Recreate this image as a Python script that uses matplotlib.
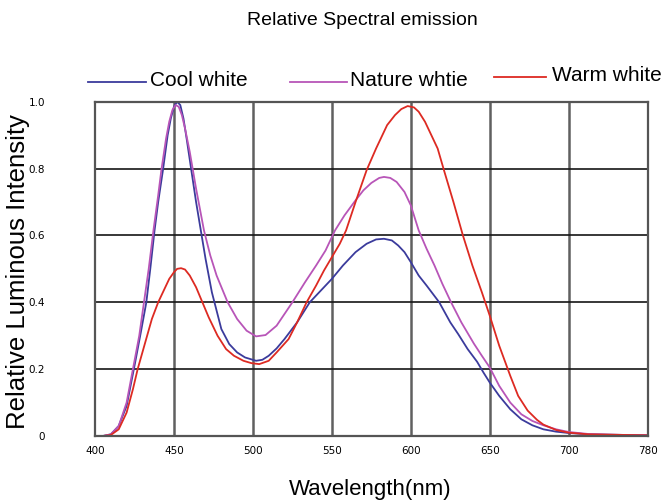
import numpy as np
import matplotlib
matplotlib.use("Agg")
import matplotlib.pyplot as plt
from matplotlib.lines import Line2D

# relative spectral emission of three LED colour temperatures

tick_wl = [400, 450, 500, 550, 600, 650, 700, 780]
tick_labels = ['400', '450', '500', '550', '600', '650', '700', '780']
y_ticks = [0, 0.2, 0.4, 0.6, 0.8, 1.0]
y_labels = ['0', '0.2', '0.4', '0.6', '0.8', '1.0']

cool_wl = [400, 405, 410, 415, 420, 425, 429, 432.5, 435, 437.7, 440, 443, 446, 448, 450, 452,
           454, 456, 458, 461, 464, 467, 470, 474, 480, 485, 490, 495, 502, 506, 510, 515, 520,
           528, 536, 543, 550, 557, 565, 572, 578, 583, 588, 592, 596, 600, 605, 610, 618, 625,
           630, 636, 642, 646, 650, 656, 663, 670, 677, 684, 692, 700, 720, 740, 760, 780]
cool_val = [0.0, 0.0, 0.005, 0.03, 0.09, 0.21, 0.31, 0.40, 0.50, 0.615, 0.70, 0.795, 0.90, 0.95,
            0.985, 1.0, 0.99, 0.95, 0.89, 0.795, 0.70, 0.615, 0.53, 0.43, 0.32, 0.275, 0.25, 0.235,
            0.225, 0.228, 0.24, 0.262, 0.29, 0.34, 0.40, 0.435, 0.47, 0.51, 0.55, 0.575, 0.588,
            0.59, 0.585, 0.57, 0.55, 0.52, 0.48, 0.45, 0.40, 0.34, 0.305, 0.26, 0.222, 0.19, 0.16,
            0.12, 0.08, 0.05, 0.032, 0.02, 0.013, 0.009, 0.005, 0.004, 0.003, 0.002]

nature_wl = [400, 405, 410, 415, 420, 424, 428, 431, 434, 437, 440, 442, 445, 447, 449, 451,
             453, 455, 457, 460, 464, 469, 473, 477, 484, 490, 496, 502, 508, 515, 525, 533, 540,
             546, 552, 558, 565, 570, 575, 580, 583, 587, 591, 596, 600, 605, 610, 615, 620, 625.5,
             632, 640, 645, 650, 656, 663, 670, 677, 684, 692, 700, 720, 740, 760, 780]
nature_val = [0.0, 0.0, 0.005, 0.03, 0.10, 0.20, 0.30, 0.40, 0.50, 0.615, 0.72, 0.795, 0.89, 0.94,
              0.975, 0.99, 0.985, 0.96, 0.92, 0.85, 0.74, 0.615, 0.54, 0.48, 0.40, 0.35, 0.315,
              0.298, 0.302, 0.33, 0.40, 0.46, 0.51, 0.555, 0.615, 0.66, 0.705, 0.735, 0.757, 0.772,
              0.775, 0.772, 0.76, 0.73, 0.69, 0.615, 0.56, 0.51, 0.455, 0.40, 0.34, 0.276, 0.24,
              0.205, 0.15, 0.10, 0.065, 0.045, 0.032, 0.02, 0.012, 0.006, 0.004, 0.003, 0.002]

warm_wl = [400, 405, 410, 415, 420, 424, 427, 430, 433, 436, 440, 444, 447, 450, 452, 454.5, 457,
           460, 464, 468, 472, 477.6, 483, 488, 494, 499, 504, 510, 515, 522.6, 528, 534, 540, 545,
           550, 555, 559, 565, 572, 578, 585, 590, 594, 598, 602, 605, 609, 612, 617, 621, 627,
           633, 639, 645, 650, 656, 663, 668, 674, 680, 684, 692, 700, 720, 740, 760, 780]
warm_val = [0.0, 0.0, 0.003, 0.02, 0.07, 0.14, 0.20, 0.25, 0.30, 0.35, 0.40, 0.44, 0.47, 0.49,
            0.50, 0.502, 0.498, 0.48, 0.445, 0.40, 0.355, 0.30, 0.26, 0.24, 0.225, 0.218, 0.215,
            0.225, 0.25, 0.29, 0.34, 0.40, 0.45, 0.495, 0.535, 0.575, 0.615, 0.70, 0.795, 0.86,
            0.93, 0.96, 0.978, 0.987, 0.983, 0.97, 0.94, 0.91, 0.86, 0.795, 0.70, 0.60, 0.51,
            0.43, 0.36, 0.27, 0.18, 0.12, 0.076, 0.048, 0.034, 0.018, 0.01, 0.005, 0.004,
            0.003, 0.002]

series = [
    ('Cool white', cool_wl, cool_val, '#3b3b9c'),
    ('Nature whtie', nature_wl, nature_val, '#b855b8'),
    ('Warm white', warm_wl, warm_val, '#dd2a22'),
]

plt.rcParams['font.family'] = ['Liberation Sans', 'DejaVu Sans']

fig = plt.figure(figsize=(6.65, 5.03), dpi=100)
ax = fig.add_axes([0.1429, 0.1332, 0.831, 0.6646])

# grid is evenly spaced even though the last step is 700 -> 780
tick_pos = np.arange(len(tick_wl))

for name, wl, val, col in series:
    x = np.interp(wl, tick_wl, tick_pos)
    ax.plot(x, val, color=col, lw=1.3)

ax.set_xlim(0, len(tick_wl) - 1)
ax.set_ylim(0, 1.0)
ax.set_xticks(tick_pos)
ax.set_xticklabels(tick_labels, family='DejaVu Sans', fontsize=7.5)
ax.set_yticks(y_ticks)
ax.set_yticklabels(y_labels, family='DejaVu Sans', fontsize=7.5)
ax.tick_params(axis='x', length=0, pad=7)
ax.tick_params(axis='y', length=0, pad=36)

for p in tick_pos[1:-1]:
    ax.axvline(p, color='#606060', lw=1.8, zorder=0)
for v in y_ticks[1:-1]:
    ax.axhline(v, color='#151515', lw=1.2, zorder=0)
for s in ax.spines.values():
    s.set_color('#555555')
    s.set_linewidth(1.6)

fig.text(0.556, 0.026, 'Wavelength(nm)', ha='center', va='center', fontsize=16)
fig.text(0.027, 0.46, 'Relative Luminous Intensity', ha='center', va='center',
         rotation=90, fontsize=18.5)

fig.text(0.545, 0.96, 'Relative Spectral emission', ha='center', va='center', fontsize=14)

# legend drawn by hand along the top
leg = [(0.132, 0.219, 0.836, 0.2256, 0.840),
       (0.436, 0.522, 0.836, 0.526, 0.840),
       (0.743, 0.821, 0.847, 0.830, 0.849)]
for (name, wl, val, col), (x0, x1, yl, xt, yt) in zip(series, leg):
    fig.add_artist(Line2D([x0, x1], [yl, yl], color=col, lw=1.3, transform=fig.transFigure))
    fig.text(xt, yt, name, ha='left', va='center', fontsize=15)

plt.savefig('out.png', dpi=100)
